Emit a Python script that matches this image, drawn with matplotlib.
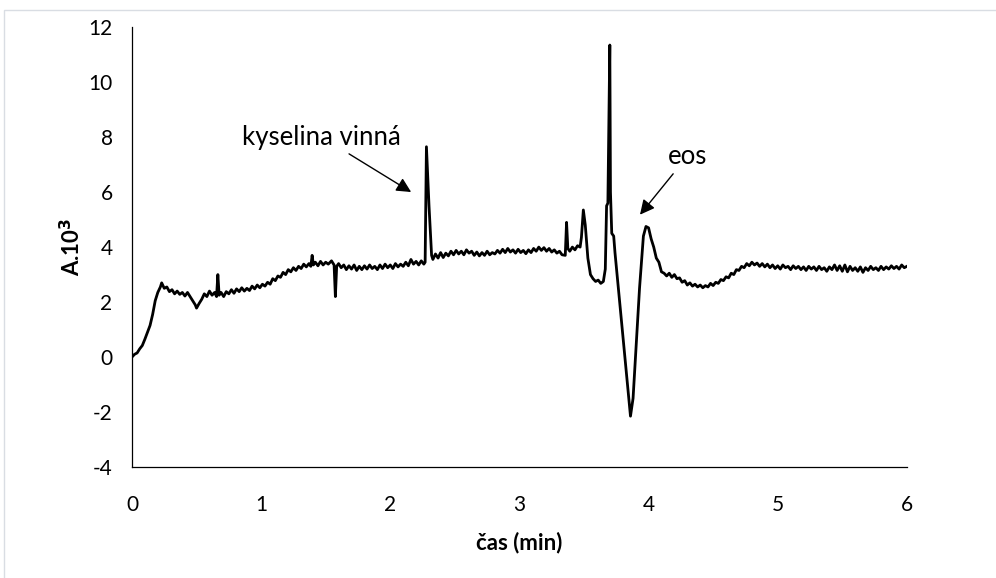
import numpy as np
import matplotlib.pyplot as plt
from matplotlib.patches import Rectangle

plt.rcParams['font.family'] = ['Lato', 'DejaVu Sans']
plt.rcParams['axes.unicode_minus'] = False

# --- data (cas v min, A.10^3) ---
# start and first baseline
t_start = [0.00, 0.02, 0.04, 0.06, 0.08, 0.10, 0.12, 0.14, 0.16, 0.18, 0.20, 0.22, 0.23,
           0.25, 0.27, 0.29, 0.31, 0.33, 0.35, 0.37, 0.39, 0.41, 0.43, 0.45, 0.47, 0.49,
           0.50, 0.52, 0.54, 0.56, 0.58, 0.60, 0.62, 0.64, 0.655, 0.665, 0.675, 0.69,
           0.71, 0.73, 0.75, 0.77, 0.79, 0.81, 0.83, 0.85, 0.87, 0.89, 0.91, 0.93, 0.95,
           0.97, 0.99, 1.01, 1.03, 1.05, 1.07, 1.09, 1.11, 1.13, 1.15, 1.17, 1.19, 1.21,
           1.23, 1.25, 1.27, 1.29, 1.31, 1.33, 1.35, 1.37, 1.385, 1.395, 1.405, 1.42,
           1.44, 1.46, 1.48, 1.50, 1.52, 1.545, 1.565, 1.575, 1.585]
a_start = [0.00, 0.10, 0.15, 0.30, 0.42, 0.65, 0.90, 1.15, 1.55, 2.05, 2.35, 2.55, 2.70,
           2.50, 2.55, 2.38, 2.45, 2.30, 2.40, 2.28, 2.35, 2.22, 2.35, 2.20, 2.05, 1.90,
           1.78, 1.95, 2.10, 2.30, 2.20, 2.40, 2.25, 2.35, 2.20, 3.00, 2.25, 2.35,
           2.20, 2.38, 2.30, 2.45, 2.32, 2.48, 2.38, 2.52, 2.40, 2.50, 2.42, 2.58, 2.48,
           2.62, 2.52, 2.65, 2.58, 2.72, 2.65, 2.85, 2.78, 2.95, 2.90, 3.08, 3.00, 3.18,
           3.10, 3.25, 3.15, 3.30, 3.22, 3.38, 3.28, 3.40, 3.30, 3.70, 3.35, 3.45,
           3.32, 3.48, 3.35, 3.45, 3.38, 3.50, 3.35, 2.20, 3.30]

# baseline up to kyselina vinna
t_base = [1.60, 1.62, 1.64, 1.66, 1.68, 1.70, 1.72, 1.74, 1.76, 1.78, 1.80, 1.82, 1.84,
          1.86, 1.88, 1.90, 1.92, 1.94, 1.96, 1.98, 2.00, 2.02, 2.04, 2.06, 2.08, 2.10,
          2.12, 2.14, 2.16, 2.18, 2.20, 2.22, 2.24, 2.26, 2.27]
a_base = [3.40, 3.25, 3.35, 3.18, 3.32, 3.20, 3.35, 3.15, 3.30, 3.18, 3.32, 3.20, 3.35,
          3.22, 3.30, 3.18, 3.35, 3.22, 3.38, 3.25, 3.35, 3.22, 3.40, 3.28, 3.38, 3.30,
          3.45, 3.32, 3.55, 3.38, 3.48, 3.35, 3.50, 3.38, 3.45]

# kyselina vinna peak and middle baseline
t_mid = [2.28, 2.30, 2.32, 2.33, 2.35, 2.37, 2.39, 2.41, 2.43, 2.45, 2.47, 2.49, 2.51,
         2.53, 2.55, 2.57, 2.59, 2.61, 2.63, 2.65, 2.67, 2.69, 2.71, 2.73, 2.75, 2.77,
         2.79, 2.81, 2.83, 2.85, 2.87, 2.89, 2.91, 2.93, 2.95, 2.97, 2.99, 3.01, 3.03,
         3.05, 3.07, 3.09, 3.11, 3.13, 3.15, 3.17, 3.19, 3.21, 3.23, 3.25, 3.27, 3.29,
         3.31, 3.33]
a_mid = [7.65, 5.50, 3.70, 3.55, 3.75, 3.60, 3.80, 3.62, 3.78, 3.68, 3.85, 3.72, 3.88,
         3.75, 3.85, 3.72, 3.90, 3.78, 3.85, 3.70, 3.82, 3.68, 3.80, 3.70, 3.85, 3.72,
         3.80, 3.75, 3.88, 3.78, 3.92, 3.80, 3.95, 3.82, 3.90, 3.78, 3.92, 3.80, 3.88,
         3.76, 3.90, 3.80, 3.95, 3.85, 4.00, 3.88, 3.98, 3.85, 3.95, 3.82, 3.90, 3.78,
         3.85, 3.72]

# peaks around 3.4 - 4.1 min incl. eos
t_eos = [3.355, 3.365, 3.375, 3.39, 3.41, 3.43, 3.45, 3.47, 3.48, 3.495, 3.51, 3.53,
         3.55, 3.57, 3.59, 3.61, 3.63, 3.65, 3.665, 3.675, 3.685, 3.70, 3.705, 3.715,
         3.73, 3.74, 3.86, 3.88, 3.93, 3.96, 3.98, 4.00, 4.02, 4.04, 4.06, 4.08, 4.10]
a_eos = [3.70, 4.90, 3.95, 3.85, 4.00, 3.90, 4.05, 4.00, 4.35, 5.35, 4.80, 3.60,
         3.00, 2.85, 2.75, 2.80, 2.68, 2.75, 3.20, 5.50, 5.60, 11.35, 6.00, 4.50,
         4.40, 3.80, -2.15, -1.50, 2.50, 4.40, 4.75, 4.70, 4.30, 4.00, 3.60, 3.45, 3.10]

# tail
t_tail = [4.12, 4.14, 4.16, 4.18, 4.20, 4.22, 4.24, 4.26, 4.28, 4.30, 4.32, 4.34, 4.36,
          4.38, 4.40, 4.42, 4.44, 4.46, 4.48, 4.50, 4.52, 4.54, 4.56, 4.58, 4.60, 4.62,
          4.64, 4.66, 4.68, 4.70, 4.72, 4.74, 4.76, 4.78, 4.80, 4.82, 4.84, 4.86, 4.88,
          4.90, 4.92, 4.94, 4.96, 4.98, 5.00, 5.02, 5.04, 5.06, 5.08, 5.10, 5.12, 5.14,
          5.16, 5.18, 5.20, 5.22, 5.24, 5.26, 5.28, 5.30, 5.32, 5.34, 5.36, 5.38, 5.40,
          5.42, 5.44, 5.46, 5.48, 5.50, 5.52, 5.54, 5.56, 5.58, 5.60, 5.62, 5.64, 5.66,
          5.68, 5.70, 5.72, 5.74, 5.76, 5.78, 5.80, 5.82, 5.84, 5.86, 5.88, 5.90, 5.92,
          5.94, 5.96, 5.98, 6.00]
a_tail = [3.05, 2.95, 3.05, 2.90, 3.00, 2.85, 2.88, 2.72, 2.78, 2.62, 2.70, 2.58, 2.65,
          2.55, 2.62, 2.52, 2.60, 2.55, 2.68, 2.60, 2.72, 2.68, 2.82, 2.78, 2.92, 2.88,
          3.05, 3.00, 3.18, 3.15, 3.30, 3.25, 3.40, 3.32, 3.45, 3.35, 3.42, 3.30, 3.40,
          3.28, 3.38, 3.25, 3.35, 3.22, 3.32, 3.20, 3.35, 3.25, 3.30, 3.18, 3.32, 3.22,
          3.30, 3.18, 3.28, 3.15, 3.30, 3.20, 3.28, 3.15, 3.30, 3.18, 3.25, 3.12, 3.28,
          3.18, 3.35, 3.15, 3.32, 3.12, 3.35, 3.10, 3.30, 3.15, 3.25, 3.12, 3.28, 3.08,
          3.25, 3.15, 3.30, 3.18, 3.25, 3.15, 3.30, 3.18, 3.28, 3.20, 3.32, 3.22, 3.30,
          3.20, 3.35, 3.25, 3.30]

t = np.concatenate([t_start, t_base, t_mid, t_eos, t_tail])
a = np.concatenate([a_start, a_base, a_mid, a_eos, a_tail])

fig = plt.figure(figsize=(9.96, 5.78), dpi=100)
ax = fig.add_axes([0.1325, 0.192, 0.778, 0.761])

ax.plot(t, a, color='black', linewidth=2.0)

ax.set_xlim(0, 6)
ax.set_ylim(-4, 12)
ax.set_xticks(range(0, 7))
ax.set_yticks(range(-4, 13, 2))
ax.tick_params(length=0, labelsize=15)
ax.tick_params(axis='x', pad=20)
ax.tick_params(axis='y', pad=14)
for s in ['top', 'right']:
    ax.spines[s].set_visible(False)
for s in ['left', 'bottom']:
    ax.spines[s].set_linewidth(0.9)

ax.set_xlabel('čas (min)', fontsize=16, fontweight='bold', labelpad=12)
ax.set_ylabel('A.10$^\\mathbf{3}$', fontsize=16, fontweight='bold', labelpad=3)

arrow = dict(arrowstyle='-|>', color='black', lw=1, mutation_scale=22)
ax.annotate('kyselina vinná', xy=(2.18, 5.95), xytext=(1.47, 8.0),
            fontsize=18.5, ha='center', va='center', arrowprops=arrow)
ax.annotate('eos', xy=(3.92, 5.1), xytext=(4.3, 7.3),
            fontsize=18.5, ha='center', va='center', arrowprops=arrow)

# light frame of the chart area
fig.add_artist(Rectangle((0.004, -0.1), 1.2, 1.0827, transform=fig.transFigure,
                         fill=False, edgecolor='#d9dde3', linewidth=1))

fig.savefig('out.png', dpi=100)
